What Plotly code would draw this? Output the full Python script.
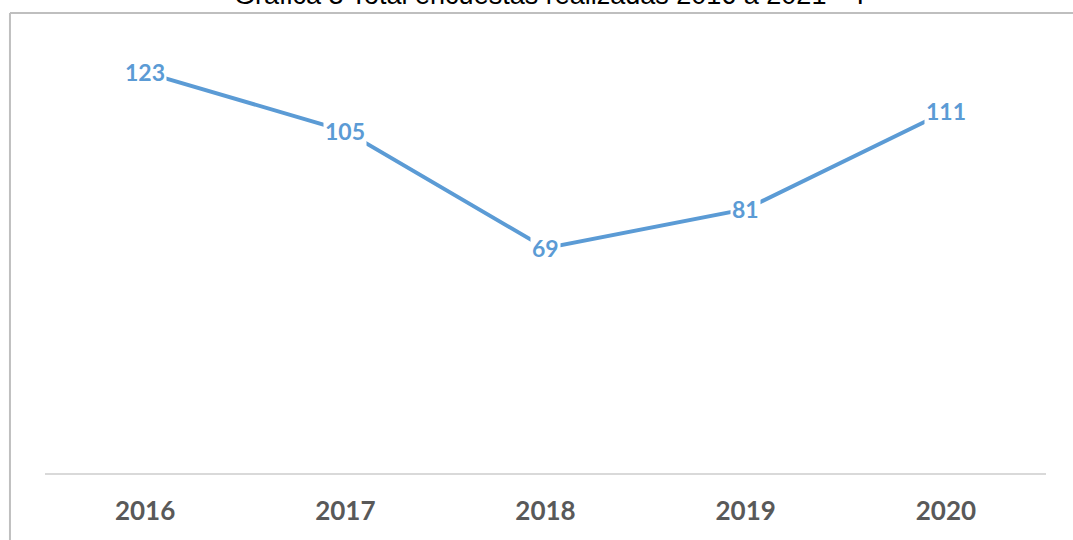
import plotly.graph_objects as go

years = ["2016", "2017", "2018", "2019", "2020"]
values = [123, 105, 69, 81, 111]
title_text = "Gráfica 3 Total encuestas realizadas 2016 a 2021 – I"

line_color = "#5B9BD5"

fig = go.Figure()
fig.add_trace(go.Scatter(
    x=years, y=values, mode="lines",
    line=dict(color=line_color, width=4),
    hoverinfo="skip", showlegend=False,
))

annotations = []
for i, v in enumerate(values):
    annotations.append(dict(
        x=i, y=v, xref="x", yref="y", text=f"<b>{v}</b>", showarrow=False,
        font=dict(family="Lato", size=23, color=line_color),
        bgcolor="white", borderpad=1, xanchor="center", yanchor="middle",
    ))

# cut-off title at the top
annotations.append(dict(
    x=0.503, y=1.0, xref="paper", yref="paper", text=title_text, showarrow=False,
    font=dict(family="Liberation Sans", size=27, color="black"),
    xanchor="center", yanchor="bottom", yshift=5,
))

shapes = [
    dict(type="line", xref="paper", yref="paper", x0=-0.035, x1=1.05, y0=1.0088, y1=1.0088,
         line=dict(color="#bfbfbf", width=2)),
    dict(type="line", xref="paper", yref="paper", x0=-0.035, x1=-0.035, y0=1.0088, y1=-0.2,
         line=dict(color="#bfbfbf", width=2)),
]

fig.update_layout(
    width=1073, height=540,
    margin=dict(l=45, r=27, t=17, b=67),
    paper_bgcolor="white", plot_bgcolor="white",
    annotations=annotations, shapes=shapes,
    xaxis=dict(
        type="category", range=[-0.5, 4.5], showgrid=False, zeroline=False,
        showline=True, linecolor="#d9d9d9", linewidth=2, ticks="",
        tickfont=dict(family="Lato", size=26, color="#595959", weight="bold"),
        ticklabelstandoff=14,
    ),
    yaxis=dict(range=[0, 140], visible=False, showgrid=False, zeroline=False),
)

fig.write_html("out.html", config={"displayModeBar": False},
               post_script="document.body.style.margin='0';")
